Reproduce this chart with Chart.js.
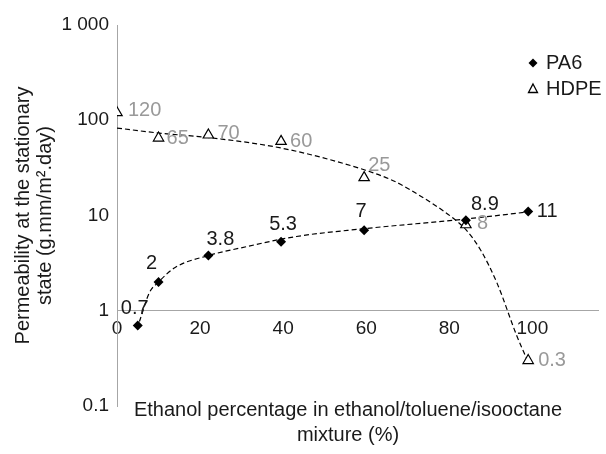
<!DOCTYPE html>
<html><head><meta charset="utf-8">
<script src="https://cdn.jsdelivr.net/npm/chart.js@4/dist/chart.umd.min.js"></script>
<style>html,body{margin:0;padding:0;background:#fff;} #wrap{width:606px;height:454px;position:relative;}</style>
</head><body><div id="wrap"><canvas id="c"></canvas></div>
<script>
// ---- data ----
const seriesNames = ['PA6', 'HDPE'];
const pa6X = [5, 10, 22, 39.5, 59.5, 84, 99];
const pa6Y = [0.7, 2, 3.8, 5.3, 7, 8.9, 11];
const hdpeX = [0, 10, 22, 39.5, 59.5, 84, 99];
const hdpeY = [120, 65, 70, 60, 25, 8, 0.3];
// dashed trend curves
const pa6TrendX = [5.4, 7.8, 10, 13.9, 21.8, 29.6, 43.2, 59.2, 84.1, 99];
const pa6TrendY = [0.77, 1.55, 2.0, 2.83, 3.78, 4.55, 6.02, 7.25, 9.2, 10.9];
const hdpeTrendX = [0, 10, 21.8, 39.6, 59.5, 66.5, 70.6, 80.9, 84.0, 87.5, 91.5, 96.3, 98.7];
const hdpeTrendY = [82.8, 73.4, 66, 51, 30.2, 23.2, 18.6, 9.4, 7.1, 4.37, 1.95, 0.54, 0.31];
const xTicks = [0, 20, 40, 60, 80, 100];
const yTicks = [0.1, 1, 10, 100, 1000];
const yTickLabels = ['0.1', '1', '10', '100', '1 000'];
const xTitle = ['Ethanol percentage in ethanol/toluene/isooctane', 'mixture (%)'];
const yTitle = ['Permeability at the stationary', 'state (g.mm/m\u00B2.day)'];
const xMin = 0, xMax = 116, yMin = 0.1, yMax = 1000;

// ---- styling ----
const FONT = "'Liberation Sans', Arial, Helvetica, sans-serif";
const TEXT = '#1a1a1a';
const GRAY_LABEL = '#999999';
const AXIS = '#a6a6a6';
const X_TITLE_CENTER = 348;
const pa6LabelOffsets = [[-3,-17],[-7,-19],[12,-16],[2,-17],[-3,-19],[19,-16],[19,0]];
const hdpeLabelOffsets = [[11,-2],[8,0],[9,-2],[9,0],[4,-12],[11,-1],[10,0]];

const pts = (xs, ys) => xs.map((x, i) => ({x: x, y: ys[i]}));

const labelPlugin = {
  id: 'valueLabels',
  afterDatasetsDraw(chart) {
    const ctx = chart.ctx;
    ctx.save();
    ctx.font = '20px ' + FONT;
    ctx.textBaseline = 'middle';
    const m0 = chart.getDatasetMeta(0);
    ctx.fillStyle = TEXT; ctx.textAlign = 'center';
    m0.data.forEach((el, i) => {
      const o = pa6LabelOffsets[i];
      ctx.fillText(String(pa6Y[i]), el.x + o[0], el.y + o[1]);
    });
    const m1 = chart.getDatasetMeta(1);
    ctx.fillStyle = GRAY_LABEL; ctx.textAlign = 'left';
    m1.data.forEach((el, i) => {
      const o = hdpeLabelOffsets[i];
      ctx.fillText(String(hdpeY[i]), el.x + o[0], el.y + o[1]);
    });
    ctx.restore();
  }
};

const titleShiftPlugin = {
  id: 'titleShift',
  afterLayout(chart) {
    const s = chart.scales.xt;
    s.right = 2 * X_TITLE_CENTER - s.left;
    s.width = s.right - s.left;
  }
};

const legendPlugin = {
  id: 'sideLegend',
  afterDraw(chart) {
    const ctx = chart.ctx;
    const x = 533, y0 = 63, dy = 26;
    ctx.save();
    ctx.fillStyle = '#000';
    ctx.beginPath();
    ctx.moveTo(x, y0 - 4.5); ctx.lineTo(x + 4.5, y0); ctx.lineTo(x, y0 + 4.5); ctx.lineTo(x - 4.5, y0);
    ctx.closePath(); ctx.fill();
    const y1 = y0 + dy;
    ctx.strokeStyle = '#000'; ctx.lineWidth = 1.3; ctx.fillStyle = '#fff';
    ctx.beginPath();
    ctx.moveTo(x, y1 - 5); ctx.lineTo(x + 4.5, y1 + 3.5); ctx.lineTo(x - 4.5, y1 + 3.5);
    ctx.closePath(); ctx.fill(); ctx.stroke();
    ctx.fillStyle = TEXT;
    ctx.font = '20px ' + FONT;
    ctx.textAlign = 'left'; ctx.textBaseline = 'middle';
    ctx.fillText(seriesNames[0], 546, y0);
    ctx.fillText(seriesNames[1], 546, y1);
    ctx.restore();
  }
};

new Chart(document.getElementById('c'), {
  type: 'scatter',
  data: {
    datasets: [
      { label: seriesNames[0], data: pts(pa6X, pa6Y), showLine: false,
        pointStyle: 'rectRot', pointRadius: 5, pointHoverRadius: 5,
        backgroundColor: '#000', borderColor: '#000', borderWidth: 0, order: 0 },
      { label: seriesNames[1], data: pts(hdpeX, hdpeY), showLine: false,
        pointStyle: 'triangle', pointRadius: 6, pointHoverRadius: 6,
        backgroundColor: '#fff', borderColor: '#000', borderWidth: 1.2, order: 0 },
      { label: seriesNames[0] + ' trend', data: pts(pa6TrendX, pa6TrendY), showLine: true,
        pointRadius: 0, borderColor: '#000', borderWidth: 1.2, borderDash: [5, 3],
        cubicInterpolationMode: 'monotone', fill: false, order: 1 },
      { label: seriesNames[1] + ' trend', data: pts(hdpeTrendX, hdpeTrendY), showLine: true,
        pointRadius: 0, borderColor: '#000', borderWidth: 1.2, borderDash: [5, 3],
        cubicInterpolationMode: 'monotone', fill: false, order: 1 }
    ]
  },
  options: {
    responsive: true, maintainAspectRatio: false, animation: false,
    devicePixelRatio: 1,
    layout: { padding: { top: 25, right: 2, left: 0, bottom: 0 } },
    plugins: { legend: { display: false }, tooltip: { enabled: false } },
    scales: {
      x: {
        type: 'linear', position: { y: 1 }, min: xMin, max: xMax,
        grid: { display: false, drawTicks: false },
        border: { display: true, color: AXIS, width: 1 },
        afterBuildTicks: s => { s.ticks = xTicks.map(v => ({ value: v })); },
        ticks: { font: { family: FONT, size: 19 }, color: TEXT, padding: 7, maxRotation: 0, autoSkip: false }
      },
      xt: {
        type: 'linear', position: 'bottom', min: xMin, max: xMax,
        grid: { display: false, drawTicks: false },
        border: { display: false },
        ticks: { display: false },
        title: { display: true, text: xTitle, color: TEXT,
                 font: { family: FONT, size: 20, lineHeight: 1.25 }, padding: { top: 0, bottom: 6 } },
        afterFit: s => { s.height = 48; }
      },
      y: {
        type: 'logarithmic', position: 'left', min: yMin, max: yMax,
        grid: { display: false, drawTicks: false },
        border: { display: true, color: AXIS, width: 1 },
        afterBuildTicks: s => { s.ticks = yTicks.map(v => ({ value: v })); },
        ticks: { callback: (v, i) => yTickLabels[i], font: { family: FONT, size: 19 }, color: TEXT, padding: 8, autoSkip: false },
        title: { display: true, text: yTitle, color: TEXT,
                 font: { family: FONT, size: 20, lineHeight: 1.1 }, padding: { top: 12, bottom: 0 } },
        afterFit: s => { s.width = 117; }
      }
    }
  },
  plugins: [titleShiftPlugin, labelPlugin, legendPlugin]
});
</script>
</body></html>
